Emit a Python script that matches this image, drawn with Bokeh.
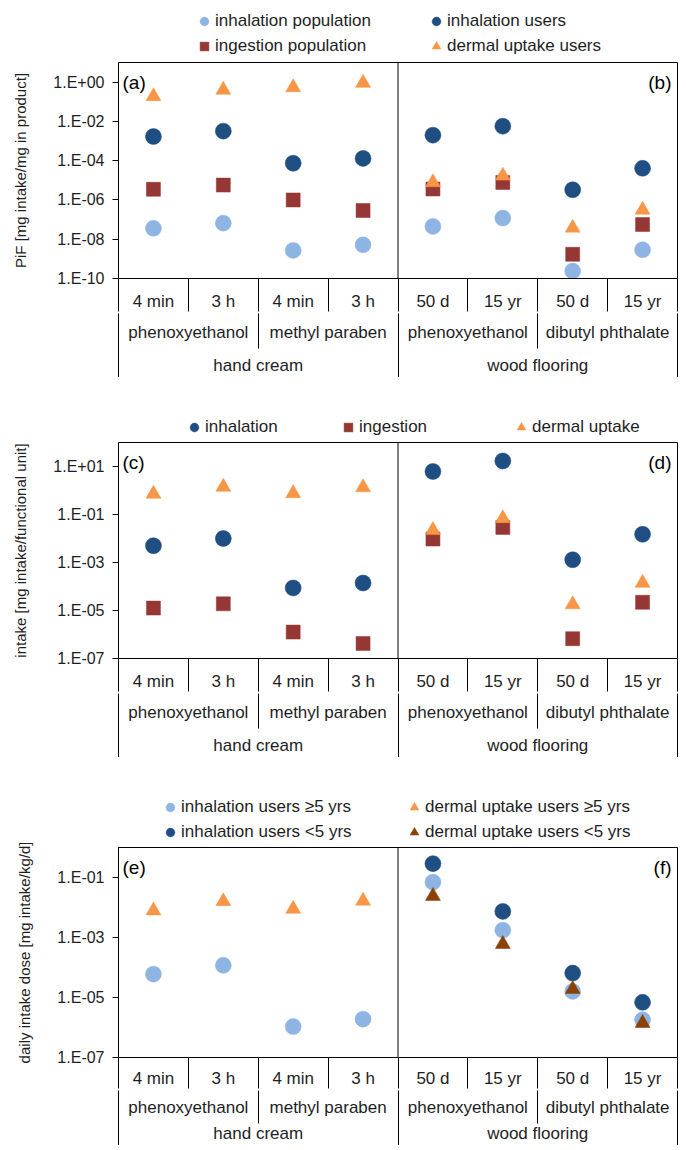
from bokeh.plotting import figure
from bokeh.layouts import column
from bokeh.models import (FixedTicker, LinearAxis, CustomJSTickFormatter, Span,
                          Label, Legend, LegendItem, Range1d)
from bokeh.embed import file_html
from bokeh.resources import INLINE

NaN = float("nan")

# ---------------- categories ----------------
durations = ["4 min", "3 h", "4 min", "3 h", "50 d", "15 yr", "50 d", "15 yr"]
substances = ["phenoxyethanol", "methyl paraben", "phenoxyethanol", "dibutyl phthalate"]
products = ["hand cream", "wood flooring"]

# ---------------- (a)/(b) PiF [mg intake/mg in product] ----------------
pif_inhalation_population = [3.6e-8, 6.6e-8, 2.7e-9, 5.2e-9, 4.5e-8, 1.2e-7, 2.4e-10, 2.9e-9]
pif_inhalation_users = [1.7e-3, 3.2e-3, 7.4e-5, 1.3e-4, 2.0e-3, 5.7e-3, 3.3e-6, 4.1e-5]
pif_ingestion_population = [3.5e-6, 5.7e-6, 1.0e-6, 2.9e-7, 3.6e-6, 7.8e-6, 1.7e-9, 5.6e-8]
pif_dermal_uptake_users = [0.19, 0.40, 0.54, 0.90, 7.8e-6, 1.7e-5, 3.8e-8, 3.1e-7]

# ---------------- (c)/(d) intake [mg intake/functional unit] ----------------
intake_inhalation = [5.0e-3, 1.0e-2, 8.7e-5, 1.4e-4, 6.2, 17.0, 1.3e-3, 1.5e-2]
intake_ingestion = [1.26e-5, 1.9e-5, 1.26e-6, 4.2e-7, 9.5e-3, 2.9e-2, 6.7e-7, 2.2e-5]
intake_dermal_uptake = [0.72, 1.4, 0.76, 1.35, 2.2e-2, 6.9e-2, 1.8e-5, 1.4e-4]

# ---------------- (e)/(f) daily intake dose [mg intake/kg/d] ----------------
dose_inhalation_users_ge5 = [6.0e-5, 1.18e-4, 1.07e-6, 1.9e-6, 7.0e-2, 1.75e-3, 1.6e-5, 1.8e-6]
dose_inhalation_users_lt5 = [NaN, NaN, NaN, NaN, 2.9e-1, 7.4e-3, 6.5e-5, 6.9e-6]
dose_dermal_users_ge5 = [7.9e-3, 1.6e-2, 8.9e-3, 1.66e-2, NaN, NaN, NaN, NaN]
dose_dermal_users_lt5 = [NaN, NaN, NaN, NaN, 2.4e-2, 6.0e-4, 1.9e-5, 1.4e-6]

# ---------------- style ----------------
FONT = "Liberation Sans"
TXT = "#1e1e1e"
LIGHT = "#8EB4E3"
DARK = "#1F4E82"
RED = "#953735"
ORANGE = "#F79646"
BROWN = "#8A4209"
W_TOTAL = 678

xpos = [i + 0.5 for i in range(len(durations))]

EXP_FMT = """
const e = Math.round(Math.log10(tick));
const a = Math.abs(e);
return "1.E" + (e < 0 ? "-" : "+") + (a < 10 ? "0" + a : "" + a);
"""

# series name -> (values, marker, colour, size)
SERIES = {
    "inhalation population": (pif_inhalation_population, "circle", LIGHT, 16),
    "inhalation users": (pif_inhalation_users, "circle", DARK, 16),
    "ingestion population": (pif_ingestion_population, "square", RED, 14),
    "dermal uptake users": (pif_dermal_uptake_users, "triangle", ORANGE, 15),
    "inhalation": (intake_inhalation, "circle", DARK, 16),
    "ingestion": (intake_ingestion, "square", RED, 14),
    "dermal uptake": (intake_dermal_uptake, "triangle", ORANGE, 15),
    "inhalation users \u22655 yrs": (dose_inhalation_users_ge5, "circle", LIGHT, 16),
    "inhalation users <5 yrs": (dose_inhalation_users_lt5, "circle", DARK, 16),
    "dermal uptake users \u22655 yrs": (dose_dermal_users_ge5, "triangle", ORANGE, 15),
    "dermal uptake users <5 yrs": (dose_dermal_users_lt5, "triangle", BROWN, 15),
}


def legend_strip(height, groups):
    """Strip above a panel that holds its legend; the key renderers live
    outside this strip's visible ranges, so only the legend shows."""
    lf = figure(frame_width=W_TOTAL, frame_height=height,
                x_range=Range1d(-20, -19), y_range=Range1d(-20, -19),
                x_axis_location=None, y_axis_location=None,
                output_backend="svg", toolbar_location=None,
                min_border_left=0, min_border_right=0,
                min_border_top=0, min_border_bottom=0)
    lf.grid.visible = False
    lf.outline_line_color = None
    lf.background_fill_color = "white"
    lf.border_fill_color = "white"
    for x0, names in groups:
        items = []
        for n in names:
            vals, marker, color, size = SERIES[n]
            r = lf.scatter(xpos, vals, marker=marker, size=size, fill_color=color,
                           line_color=color, line_width=0.5)
            items.append(LegendItem(label=n, renderers=[r]))
        leg = Legend(items=items, location=(x0, 0), orientation="vertical",
                     glyph_width=22, glyph_height=22, label_height=22,
                     label_standoff=0, spacing=3, padding=0, margin=0,
                     border_line_color=None, background_fill_alpha=0,
                     label_text_font=FONT, label_text_font_size="17px",
                     label_text_color=TXT)
        lf.add_layout(leg, "center")
    return lf


def make_panel(y_lo, y_hi, y_ticks, y_title, names, tags, top_border, frame_h, row_cfg):
    p = figure(frame_width=559, frame_height=frame_h,
               x_range=Range1d(0, 8), y_range=Range1d(y_lo, y_hi),
               y_axis_type="log", x_axis_location=None,
               output_backend="svg", toolbar_location=None,
               min_border_left=118, min_border_right=1,
               min_border_top=top_border, min_border_bottom=0)
    p.xgrid.visible = False
    p.ygrid.visible = False
    p.outline_line_color = "black"
    p.outline_line_width = 1
    p.background_fill_color = "white"
    p.border_fill_color = "white"

    ya = p.yaxis[0]
    ya.ticker = FixedTicker(ticks=y_ticks, minor_ticks=[])
    ya.formatter = CustomJSTickFormatter(code=EXP_FMT)
    ya.axis_label = y_title
    ya.axis_label_text_font = FONT
    ya.axis_label_text_font_size = "15px"
    ya.axis_label_text_font_style = "normal"
    ya.axis_label_text_color = TXT
    ya.axis_label_standoff = 21
    ya.major_label_text_font = FONT
    ya.major_label_text_font_size = "16px"
    ya.major_label_text_color = TXT
    ya.major_label_standoff = 8
    ya.major_tick_out = 6
    ya.major_tick_in = 0
    ya.minor_tick_line_color = None
    ya.axis_line_color = "black"
    ya.major_tick_line_color = "black"

    # multi-level category axis built from three stacked axes;
    # minor ticks act as the group separators
    rows = [
        (xpos, [float(i) for i in range(9)], durations,
         "return labels[Math.floor(tick)];", "black"),
        ([1, 3, 5, 7], [0, 2, 4, 6, 8], substances,
         "return labels[Math.round((tick - 1) / 2)];", None),
        ([2, 6], [0, 4, 8], products,
         "return labels[Math.round((tick - 2) / 4)];", None),
    ]
    for (ticks, seps, labels, code, line_col), (sep_len, standoff) in zip(rows, row_cfg):
        ax = LinearAxis(ticker=FixedTicker(ticks=ticks, minor_ticks=seps),
                        formatter=CustomJSTickFormatter(args=dict(labels=labels), code=code))
        ax.major_tick_out = 0
        ax.major_tick_in = 0
        ax.major_tick_line_color = None
        ax.minor_tick_out = sep_len
        ax.minor_tick_in = 0
        ax.minor_tick_line_color = "black"
        ax.minor_tick_line_width = 1
        ax.axis_line_color = line_col
        ax.major_label_standoff = standoff
        ax.major_label_text_font = FONT
        ax.major_label_text_font_size = "17px"
        ax.major_label_text_color = TXT
        p.add_layout(ax, "below")

    p.add_layout(Span(location=4, dimension="height", line_color="black", line_width=1))

    for name in names:
        vals, marker, color, size = SERIES[name]
        p.scatter(xpos, vals, marker=marker, size=size, fill_color=color,
                  line_color=color, line_width=0.5)

    for x, txt, align, xoff in [(0, tags[0], "left", 4), (8, tags[1], "right", -6)]:
        p.add_layout(Label(x=x, y=y_hi, text=txt, text_align=align,
                           text_baseline="middle", x_offset=xoff, y_offset=-20,
                           text_font=FONT, text_font_size="19px", text_color="black"))
    return p


ROWS_STD = [(33, -20), (35, -26), (33, -22)]
ROWS_LAST = [(31, -20), (33, -26), (28, -24)]

leg1 = legend_strip(57, [(193, ["inhalation population", "ingestion population"]),
                         (425, ["inhalation users", "dermal uptake users"])])
p1 = make_panel(
    1e-10, 1e1, [1e-10, 1e-8, 1e-6, 1e-4, 1e-2, 1e0],
    "PiF [mg intake/mg in product]",
    ["inhalation population", "inhalation users", "ingestion population",
     "dermal uptake users"],
    ("(a)", "(b)"), 5, 216, ROWS_STD)

leg2 = legend_strip(61, [(183, ["inhalation"]), (337, ["ingestion"]),
                         (510, ["dermal uptake"])])
p2 = make_panel(
    1e-7, 1e2, [1e-7, 1e-5, 1e-3, 1e-1, 1e1],
    "intake [mg intake/functional unit]",
    ["inhalation", "ingestion", "dermal uptake"],
    ("(c)", "(d)"), 4, 216, ROWS_STD)

leg3 = legend_strip(86, [(159, ["inhalation users \u22655 yrs", "inhalation users <5 yrs"]),
                         (403, ["dermal uptake users \u22655 yrs", "dermal uptake users <5 yrs"])])
p3 = make_panel(
    1e-7, 1e0, [1e-7, 1e-5, 1e-3, 1e-1],
    "daily intake dose [mg intake/kg/d]",
    ["inhalation users \u22655 yrs", "inhalation users <5 yrs",
     "dermal uptake users \u22655 yrs", "dermal uptake users <5 yrs"],
    ("(e)", "(f)"), 4, 210, ROWS_LAST)

layout = column(leg1, p1, leg2, p2, leg3, p3, spacing=0)
open("out.html", "w").write(file_html(layout, INLINE, title="exposure chart"))
